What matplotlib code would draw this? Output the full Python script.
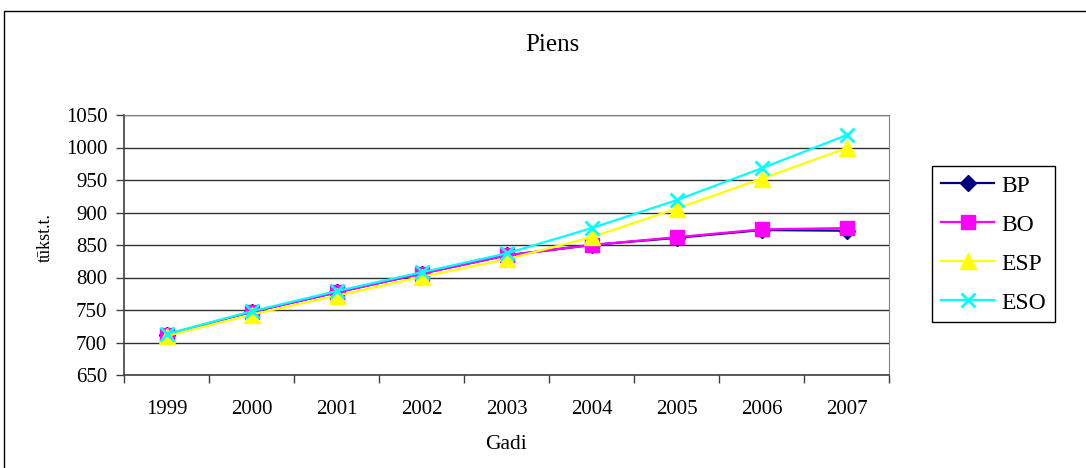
import matplotlib
matplotlib.use("Agg")
import matplotlib.pyplot as plt
from matplotlib.patches import Rectangle
from matplotlib.ticker import FixedLocator, NullFormatter

plt.rcParams['font.family'] = ['Liberation Serif', 'DejaVu Serif']

# Piena ražošana un patēriņš, tūkst. t.
gadi = ['1999', '2000', '2001', '2002', '2003', '2004', '2005', '2006', '2007']
bp = [712, 747, 777, 806, 834, 850, 861, 873, 872]
bo = [712, 747, 777, 806, 834, 850, 862, 874, 876]
esp = [710, 743, 772, 801, 828, 862, 906, 952, 999]
eso = [713, 748, 779, 808, 837, 876, 919, 968, 1019]

virsraksts = "Piens"
x_nosaukums = "Gadi"
y_nosaukums = "tūkst.t."

fig = plt.figure(figsize=(10.86, 4.68), dpi=100)
ax = fig.add_axes([124 / 1086, 93 / 468, 765 / 1086, 260 / 468])

x = list(range(len(gadi)))
ax.plot(x, bp, color='#000080', lw=1.6, marker='D', ms=8, label='BP')
ax.plot(x, bo, color='#FF00FF', lw=1.6, marker='s', ms=10, label='BO')
ax.plot(x, esp, color='#FFFF00', lw=1.6, marker='^', ms=11, label='ESP')
ax.plot(x, eso, color='#00FFFF', lw=1.6, marker='x', ms=10, mew=2, label='ESO')

ax.set_xlim(-0.5, len(gadi) - 0.5)
ax.set_ylim(650, 1050)
ax.set_yticks(range(650, 1051, 50))
ax.yaxis.grid(True, color='#303030', lw=1)
ax.set_axisbelow(True)

# kategoriju nosaukumi centrā, iedaļas starp tām
ax.set_xticks(x)
ax.set_xticklabels(gadi)
ax.xaxis.set_minor_locator(FixedLocator([i - 0.5 for i in range(len(gadi) + 1)]))
ax.xaxis.set_minor_formatter(NullFormatter())
ax.tick_params(axis='x', which='major', length=0, pad=18, labelsize=15)
ax.tick_params(axis='x', which='minor', length=6, width=1, color='#404040')
ax.tick_params(axis='y', length=6, width=1, color='#404040', labelsize=15, pad=6)

for side in ['top', 'right']:
    ax.spines[side].set_color('#808080')
for side in ['left', 'bottom']:
    ax.spines[side].set_color('#404040')
    ax.spines[side].set_linewidth(1.2)

fig.text(506 / 1086, 1 - 449 / 468, x_nosaukums, ha='center', va='baseline', fontsize=15.5)
fig.text(45 / 1086, 1 - 238 / 468, y_nosaukums, ha='center', va='center',
         rotation=90, fontsize=13)
fig.text(552 / 1086, 1 - 51 / 468, virsraksts, ha='center', va='baseline', fontsize=18)

leg = fig.legend(loc='upper left', bbox_to_anchor=(932 / 1086, 1 - 166 / 468),
                 borderaxespad=0, fontsize=17, numpoints=1, fancybox=False,
                 framealpha=1, edgecolor='black', handlelength=2.25,
                 handletextpad=0.3, labelspacing=0.74, borderpad=0.38)
leg.get_frame().set_linewidth(1)

# rāmis ap visu diagrammu
fig.patches.append(Rectangle((4 / 1086, -0.1), 1.2, 1.1 - 11 / 468,
                             transform=fig.transFigure, fill=False,
                             edgecolor='black', lw=1))

fig.savefig('out.png', dpi=100)
